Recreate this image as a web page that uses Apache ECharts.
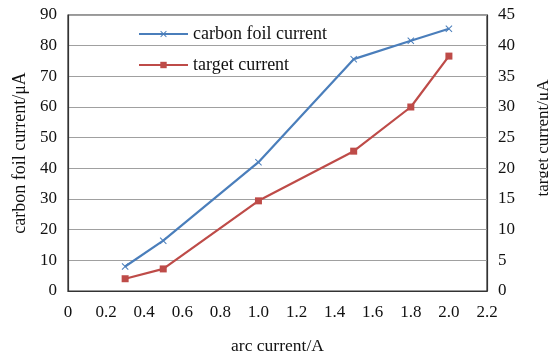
<!DOCTYPE html>
<html>
<head>
<meta charset="utf-8">
<script src="https://cdn.jsdelivr.net/npm/echarts@6/dist/echarts.min.js"></script>
<style>
  html, body { margin: 0; padding: 0; background: #fff; }
  #chart { width: 548px; height: 354px; }
</style>
</head>
<body>
<div id="chart"></div>
<script>
// arc current (A)
var arcCurrent = [0.3, 0.5, 1.0, 1.5, 1.8, 2.0];
// carbon foil current (μA), left axis
var carbonFoil = [8, 16.4, 42, 75.6, 81.6, 85.5];
// target current (μA), right axis
var targetCur = [2.0, 3.6, 14.7, 22.8, 30, 38.3];

function pairs(xs, ys) {
  return xs.map(function (x, i) { return [x, ys[i]]; });
}

var font = 'Liberation Serif, Times New Roman, serif';
var crossPath = 'path://M0,1L1,0L5,4L9,0L10,1L6,5L10,9L9,10L5,6L1,10L0,9L4,5Z';

var myChart = echarts.init(document.getElementById('chart'));
myChart.setOption({
  backgroundColor: '#fff',
  animation: false,
  textStyle: { fontFamily: font },
  grid: {
    left: 68, right: 61, top: 15, bottom: 63,
    containLabel: false,
    outerBoundsMode: 'none',
    show: true, borderColor: '#333', borderWidth: 1.2
  },
  legend: {
    orient: 'vertical',
    left: 133,
    top: 20,
    itemWidth: 49,
    itemHeight: 8,
    itemGap: 13,
    textStyle: { fontFamily: font, fontSize: 18, color: '#111' },
    data: ['carbon foil current', 'target current']
  },
  xAxis: {
    type: 'value',
    min: 0, max: 2.2, interval: 0.2,
    name: 'arc current/A',
    nameLocation: 'middle',
    nameGap: 46,
    nameTextStyle: { fontFamily: font, fontSize: 17.5, color: '#111' },
    axisLine: { show: true, lineStyle: { color: '#333', width: 1.2 } },
    axisTick: { show: false },
    splitLine: { show: false },
    axisLabel: {
      fontFamily: font, fontSize: 17, color: '#111', margin: 13,
      formatter: function (v) { return v === 0 ? '0' : v.toFixed(1); }
    }
  },
  yAxis: [
    {
      type: 'value',
      min: 0, max: 90, interval: 10,
      name: 'carbon foil current/μA',
      nameLocation: 'middle',
      nameGap: 39,
      nameTextStyle: { fontFamily: font, fontSize: 18, color: '#111' },
      axisLine: { show: true, lineStyle: { color: '#333', width: 1.2 } },
      axisTick: { show: false },
      splitLine: { show: true, lineStyle: { color: '#a0a0a0', width: 1.2 } },
      axisLabel: { fontFamily: font, fontSize: 17, color: '#111', margin: 11 }
    },
    {
      type: 'value',
      min: 0, max: 45, interval: 5,
      name: 'target current/μA',
      nameLocation: 'middle',
      nameGap: 48,
      nameRotate: 90,
      nameTextStyle: { fontFamily: font, fontSize: 17, color: '#111', padding: [0, 0, 0, 30] },
      axisLine: { show: true, lineStyle: { color: '#333', width: 1.2 } },
      axisTick: { show: false },
      splitLine: { show: false },
      axisLabel: { fontFamily: font, fontSize: 17, color: '#111', margin: 11 }
    }
  ],
  series: [
    {
      name: 'carbon foil current',
      type: 'line',
      yAxisIndex: 0,
      data: pairs(arcCurrent, carbonFoil),
      symbol: crossPath,
      symbolSize: 7,
      color: '#4a7ebb',
      lineStyle: { color: '#4a7ebb', width: 2.2 },
      itemStyle: { color: '#4a7ebb' }
    },
    {
      name: 'target current',
      type: 'line',
      yAxisIndex: 1,
      data: pairs(arcCurrent, targetCur),
      symbol: 'rect',
      symbolSize: 7,
      color: '#be4b48',
      lineStyle: { color: '#be4b48', width: 2.2 },
      itemStyle: { color: '#be4b48' }
    }
  ]
});
</script>
</body>
</html>
